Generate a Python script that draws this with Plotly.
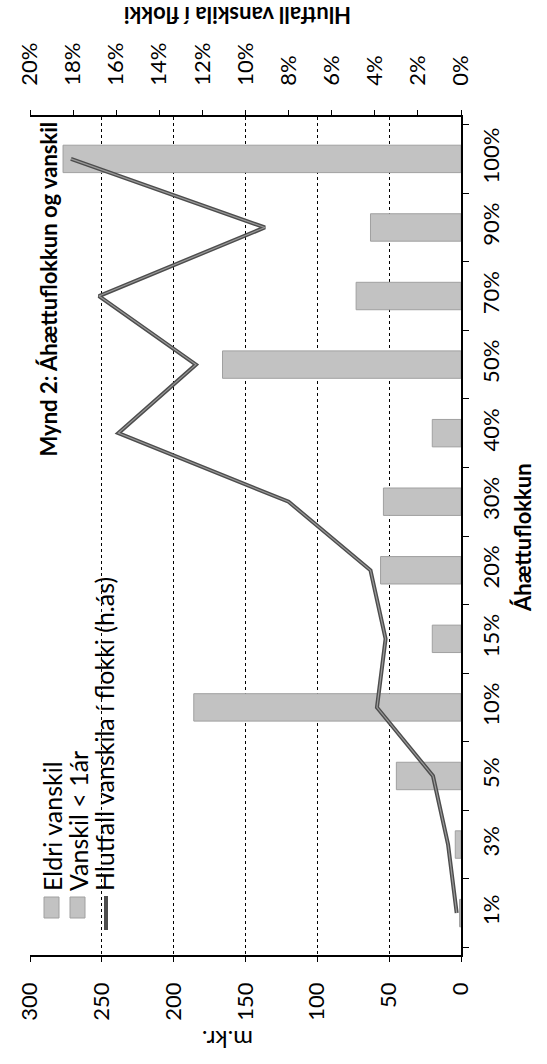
import plotly.graph_objects as go

# ---- data ----
categories = ["1%", "3%", "5%", "10%", "15%", "20%", "30%", "40%", "50%", "70%", "90%", "100%"]
vanskil_mkr = [1, 4, 45, 186, 20, 56, 54, 20, 166, 73, 63, 277]
hlutfall_vanskila = [0.002, 0.006, 0.013, 0.039, 0.035, 0.042, 0.080, 0.159, 0.123, 0.168, 0.091, 0.181]
mkr_ticks = [0, 50, 100, 150, 200, 250, 300]
pct_ticks = [0.0, 0.02, 0.04, 0.06, 0.08, 0.10, 0.12, 0.14, 0.16, 0.18, 0.20]
legend_labels = ["Eldri vanskil", "Vanskil < 1ár", "Hlutfall vanskila í flokki (h.ás)"]
title_text = "Mynd 2: Áhættuflokkun og vanskil"
cat_title = "Áhættuflokkun"
pct_title = "Hlutfall vanskila í flokki"
mkr_title = "m.kr."

W, H = 547, 1064
L, R, T, B = 30, 461, 117, 955
FONT = "Lato"
BAR = "#c2c2c2"
LINE = "#4d4d4d"


def px(x):
    return (x - L) / (R - L)


def py(y):
    return (B - y) / (B - T)


fig = go.Figure()
fig.add_trace(go.Bar(
    y=categories, x=vanskil_mkr, orientation="h", xaxis="x", yaxis="y",
    marker=dict(color=BAR, line=dict(color="#a0a0a0", width=1)),
    name=legend_labels[0], showlegend=False,
))
fig.add_trace(go.Scatter(
    y=categories, x=hlutfall_vanskila, xaxis="x2", yaxis="y", mode="lines",
    line=dict(color=LINE, width=4), name=legend_labels[2], showlegend=False,
))
fig.add_trace(go.Scatter(
    y=categories, x=hlutfall_vanskila, xaxis="x2", yaxis="y", mode="lines",
    line=dict(color="#9a9a9a", width=1.2), showlegend=False, hoverinfo="skip",
))

tickfont = dict(family=FONT, size=22, color="black")
fig.update_layout(
    width=W, height=H, autosize=False,
    margin=dict(l=L, r=W - R, t=T, b=H - B, pad=0),
    paper_bgcolor="white", plot_bgcolor="white",
    bargap=0.6, showlegend=False,
    font=dict(family=FONT, color="black"),
    xaxis=dict(
        range=[300, 0], tickvals=mkr_ticks, tickangle=-90, tickfont=tickfont,
        ticks="outside", ticklen=5, tickcolor="black", ticklabelstandoff=12,
        showline=True, linecolor="black", linewidth=1.5,
        showgrid=True, gridcolor="black", griddash="dot", gridwidth=1,
        zeroline=False, side="bottom",
    ),
    xaxis2=dict(
        range=[0.20, 0], tickvals=pct_ticks, tickformat=".0%", tickangle=-90,
        tickfont=tickfont, ticks="outside", ticklen=5, tickcolor="black",
        ticklabelstandoff=20, showline=True, linecolor="black", linewidth=1.5,
        showgrid=False, zeroline=False, side="top", overlaying="x",
    ),
    yaxis=dict(
        type="category", categoryorder="array", categoryarray=categories,
        side="right", tickangle=-90, tickfont=tickfont,
        ticks="outside", tickson="boundaries", ticklen=6, tickcolor="black",
        ticklabelstandoff=10, showline=True, linecolor="black", linewidth=1.5,
        showgrid=False, zeroline=False,
    ),
)

ann = []
ann.append(dict(text="<b>" + title_text + "</b>", textangle=-90, x=px(48), y=py(120),
                xanchor="center", yanchor="top", font=dict(size=22)))
ann.append(dict(text="<b>" + cat_title + "</b>", textangle=-90, x=px(522), y=py(538),
                xanchor="center", yanchor="middle", font=dict(size=22)))
ann.append(dict(text="<b>" + pct_title + "</b>", textangle=180, x=px(238), y=py(16),
                xanchor="center", yanchor="middle", font=dict(size=22)))
ann.append(dict(text=mkr_title, textangle=180, x=px(228), y=py(1041),
                xanchor="center", yanchor="middle", font=dict(size=24)))

legend_x = [52, 78, 104]
for lx, lab in zip(legend_x, legend_labels):
    ann.append(dict(text=lab, textangle=-90, x=px(lx), y=py(893),
                    xanchor="center", yanchor="bottom", font=dict(size=25)))
for a in ann:
    a.update(xref="paper", yref="paper", showarrow=False)
fig.update_layout(annotations=ann)

shapes = []
for lx in legend_x[:2]:
    shapes.append(dict(type="rect", xref="paper", yref="paper",
                       x0=px(lx - 8), x1=px(lx + 7), y0=py(918), y1=py(897),
                       fillcolor=BAR, line=dict(color="#a0a0a0", width=1)))
shapes.append(dict(type="line", xref="paper", yref="paper",
                   x0=px(legend_x[2] + 2), x1=px(legend_x[2] + 2), y0=py(930), y1=py(896),
                   line=dict(color=LINE, width=4)))
fig.update_layout(shapes=shapes)

fig.write_html(
    "out.html",
    config={"displayModeBar": False},
    post_script="document.body.style.margin='0';document.body.style.overflow='hidden';",
)
